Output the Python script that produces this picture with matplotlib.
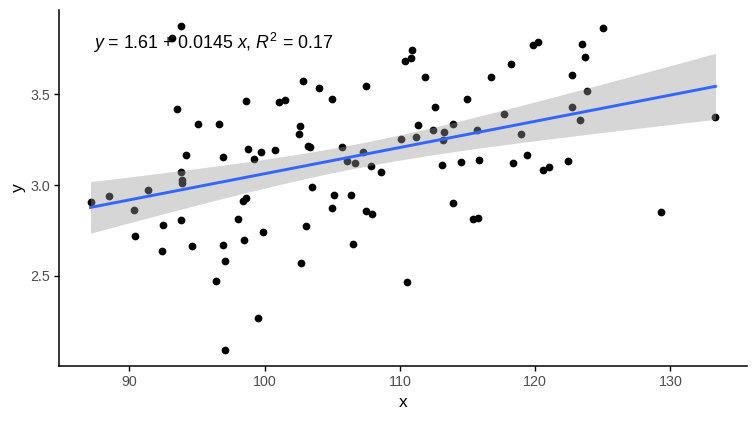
import numpy as np
import matplotlib
matplotlib.use("Agg")
import matplotlib.pyplot as plt

plt.rcParams["font.family"] = ["Liberation Sans", "DejaVu Sans"]
plt.rcParams["mathtext.fontset"] = "custom"
plt.rcParams["mathtext.rm"] = "Liberation Sans"
plt.rcParams["mathtext.it"] = "Liberation Sans:italic"

# data
x = [93.84, 93.13, 93.53, 98.65, 101.07, 101.53, 95.10, 96.65, 102.64, 102.50,
     94.19, 96.88, 98.80, 99.24, 99.76, 100.79, 93.84, 93.92, 93.92, 87.12,
     88.45, 91.40, 90.30, 90.44, 92.51, 93.84, 92.44, 94.66, 96.88, 97.10,
     96.43, 98.50, 97.99, 98.43, 98.65, 99.91, 99.54, 97.10, 102.72, 102.86,
     104.05, 105.01, 107.52, 110.92, 110.41, 110.85, 111.86, 116.77, 118.24, 114.99,
     112.62, 117.73, 111.37, 112.48, 113.29, 113.96, 115.71, 113.22, 111.22, 110.11,
     118.92, 103.23, 103.38, 105.75, 107.30, 106.12, 106.64, 107.89, 108.63, 113.14,
     114.55, 115.88, 118.39, 103.53, 105.16, 106.41, 104.94, 107.52, 107.97, 103.09,
     106.56, 110.55, 113.96, 115.41, 115.80, 125.05, 123.49, 123.72, 119.87, 120.24,
     122.75, 123.86, 122.75, 123.35, 133.33, 119.43, 120.61, 121.05, 122.46, 129.33]
y = [3.879, 3.813, 3.418, 3.463, 3.458, 3.469, 3.335, 3.335, 3.326, 3.280,
     3.165, 3.155, 3.199, 3.143, 3.181, 3.192, 3.071, 3.028, 3.015, 2.907,
     2.941, 2.973, 2.863, 2.720, 2.780, 2.808, 2.637, 2.665, 2.670, 2.582,
     2.473, 2.698, 2.813, 2.914, 2.930, 2.742, 2.269, 2.093, 2.571, 3.573,
     3.538, 3.473, 3.549, 3.747, 3.687, 3.701, 3.599, 3.599, 3.670, 3.473,
     3.429, 3.390, 3.330, 3.302, 3.291, 3.335, 3.305, 3.247, 3.264, 3.253,
     3.280, 3.218, 3.210, 3.209, 3.185, 3.135, 3.121, 3.106, 3.071, 3.110,
     3.126, 3.137, 3.121, 2.989, 2.945, 2.945, 2.874, 2.857, 2.841, 2.775,
     2.676, 2.467, 2.901, 2.813, 2.819, 3.868, 3.780, 3.709, 3.775, 3.791,
     3.610, 3.522, 3.429, 3.357, 3.374, 3.165, 3.082, 3.099, 3.132, 2.852]
eq_label = r"$y$ = 1.61 + 0.0145 $x$, $R^2$ = 0.17"

x = np.array(x)
y = np.array(y)

# linear fit with 95% confidence band (like geom_smooth(method="lm"))
n = len(x)
b1, b0 = np.polyfit(x, y, 1)
resid = y - (b0 + b1 * x)
s = np.sqrt(np.sum(resid ** 2) / (n - 2))
xg = np.linspace(x.min(), x.max(), 80)
yg = b0 + b1 * xg
se = s * np.sqrt(1 / n + (xg - x.mean()) ** 2 / np.sum((x - x.mean()) ** 2))
t = 1.984

fig = plt.figure(figsize=(7.56, 4.21), dpi=100)
ax = fig.add_axes([0.0784, 0.1306, 0.9093, 0.8468])

ax.scatter(x, y, s=31, color="black", linewidths=0, zorder=2)
ax.fill_between(xg, yg - t * se, yg + t * se, color="#999999", alpha=0.4,
                linewidth=0, zorder=3)
ax.plot(xg, yg, color="#3366FF", linewidth=2.1, zorder=4)

ax.text(0.049, 0.906, eq_label, transform=ax.transAxes, ha="left",
        va="center", fontsize=12.8, color="black")

xr = x.max() - x.min()
yr = y.max() - y.min()
ax.set_xlim(x.min() - 0.05 * xr, x.max() + 0.05 * xr)
ax.set_ylim(y.min() - 0.05 * yr, y.max() + 0.05 * yr)
ax.set_xticks([90, 100, 110, 120, 130])
ax.set_yticks([2.5, 3.0, 3.5])
ax.set_yticklabels(["2.5", "3.0", "3.5"])

for side in ["top", "right"]:
    ax.spines[side].set_visible(False)
for side in ["left", "bottom"]:
    ax.spines[side].set_linewidth(1.1)
ax.tick_params(direction="out", length=3.5, width=1.0, labelsize=10.3,
               labelcolor="#4D4D4D", pad=3)
ax.set_xlabel("x", fontsize=12.5, labelpad=4.5)
ax.set_ylabel("y", fontsize=12.5, labelpad=3)

fig.savefig("out.png", dpi=100)
